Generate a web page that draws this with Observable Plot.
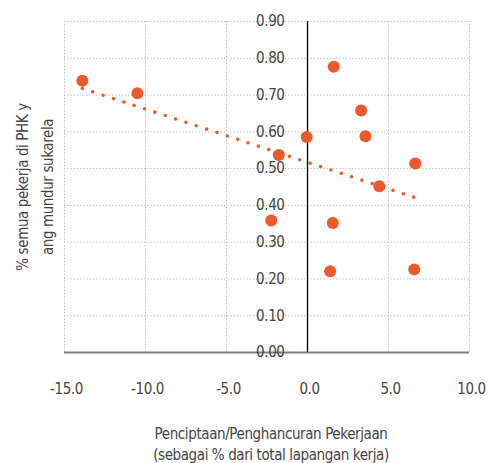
<!DOCTYPE html>
<html>
<head>
<meta charset="utf-8">
<script src="https://cdn.jsdelivr.net/npm/d3@7"></script>
<script src="https://cdn.jsdelivr.net/npm/@observablehq/plot@0.6"></script>
<style>
  html, body { margin: 0; padding: 0; background: #fff; }
  #chart svg { display: block; }
  #chart svg text { letter-spacing: -0.4px; }
</style>
</head>
<body>
<div id="chart"></div>
<script>
// Job creation/destruction (% of total employment)
const jobChange = [-13.9, -10.5, 1.62, 3.31, 3.58, -0.05, -1.77, 6.65, 4.43, -2.24, 1.56, 1.40, 6.59];
// Share of all workers laid off or voluntarily quitting
const workerShare = [0.739, 0.705, 0.777, 0.658, 0.588, 0.586, 0.537, 0.514, 0.452, 0.359, 0.352, 0.221, 0.226];

const xTicks = [-15, -10, -5, 0, 5, 10];
const yTicks = [0, 0.1, 0.2, 0.3, 0.4, 0.5, 0.6, 0.7, 0.8, 0.9];
const xTitle = "Penciptaan/Penghancuran Pekerjaan\n(sebagai % dari total lapangan kerja)";
const yTitle = "% semua pekerja di PHK y\nang mundur sukarela";

const data = jobChange.map((x, i) => ({x, y: workerShare[i]}));

const orange = "#EB5A2A";
const textColor = "#444";
const font = "'DejaVu Sans Condensed', 'DejaVu Sans', sans-serif";

const chart = Plot.plot({
  width: 488,
  height: 463,
  marginLeft: 64,
  marginRight: 19,
  marginTop: 21,
  marginBottom: 111,
  style: {fontFamily: font, fontSize: "15px", color: textColor, background: "#fff"},
  x: {domain: [-15, 10], ticks: xTicks, axis: null},
  y: {domain: [0, 0.9], ticks: yTicks, axis: null},
  marks: [
    Plot.gridX(xTicks, {stroke: "#b5b5b5", strokeOpacity: 1, strokeDasharray: "1.2,2"}),
    Plot.gridY(yTicks.filter(d => d > 0), {stroke: "#b5b5b5", strokeOpacity: 1, strokeDasharray: "1.2,2"}),
    Plot.ruleY([0], {stroke: "#808080", strokeWidth: 2.2}),
    Plot.ruleX([0], {y1: 0, y2: 0.9, stroke: "#000", strokeWidth: 1.3}),
    Plot.axisX(xTicks, {tickSize: 0, tickPadding: 31, tickFormat: d => d.toFixed(1), fill: textColor, dx: 2, label: null}),
    Plot.text(yTicks, {x: 0, y: d => d, text: d => d.toFixed(2), textAnchor: "end", dx: -23, fill: textColor}),
    Plot.linearRegressionY(data, {x: "x", y: "y", ci: 0, stroke: orange, strokeWidth: 3.6, strokeDasharray: "0,10.9", strokeLinecap: "round"}),
    Plot.dot(data, {x: "x", y: "y", r: 6, fill: orange, stroke: "none"}),
    Plot.text([xTitle], {frameAnchor: "bottom", lineAnchor: "top", dy: 72, dx: 4, lineHeight: 1.4, fill: textColor}),
    Plot.text([yTitle], {frameAnchor: "left", textAnchor: "middle", lineAnchor: "middle", rotate: -90, dx: -32, lineHeight: 1.65, fill: textColor})
  ]
});
document.getElementById("chart").appendChild(chart);
</script>
</body>
</html>
